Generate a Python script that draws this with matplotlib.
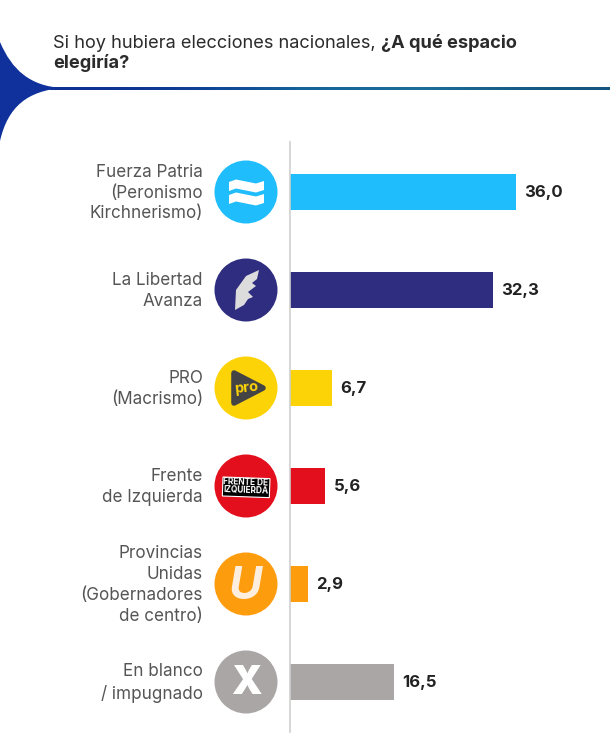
import numpy as np
import matplotlib
matplotlib.use("Agg")
import matplotlib.pyplot as plt
from matplotlib.patches import Circle, PathPatch, Polygon, Rectangle
from matplotlib.path import Path

plt.rcParams['font.family'] = ['Inter', 'DejaVu Sans']

labels = [
    "Fuerza Patria\n(Peronismo\nKirchnerismo)",
    "La Libertad\nAvanza",
    "PRO\n(Macrismo)",
    "Frente\nde Izquierda",
    "Provincias\nUnidas\n(Gobernadores\nde centro)",
    "En blanco\n/ impugnado",
]
values = [36.0, 32.3, 6.7, 5.6, 2.9, 16.5]
colors = ["#1fbdfb", "#2f2d80", "#fcd307", "#e30f1c", "#fd9c0d", "#aaa6a6"]

W, H = 610, 749
fig = plt.figure(figsize=(W / 100, H / 100), dpi=100, facecolor="white")

# overlay in pixel coords for header and logos
bg = fig.add_axes([0, 0, 1, 1])
bg.set_xlim(0, W)
bg.set_ylim(H, 0)
bg.axis("off")

# bar axes: 0 sits at x=290, 6.28 px per point, rows 98 px apart
ax = fig.add_axes([290 / W, 1 - 732 / H, 320 / W, 590 / H])
ax.patch.set_alpha(0)
ax.set_xlim(0, 320 / 6.28)
ax.set_ylim((732 - 192) / 98, (142 - 192) / 98)
y = np.arange(len(values))
ax.barh(y, values, height=36 / 98, color=colors)
for i, v in enumerate(values):
    ax.annotate(f"{v:.1f}".replace(".", ","), (v, i), xytext=(6, 0), textcoords="offset points",
                va="center", fontsize=12, fontweight="bold", color="#222222")
for s in ["top", "right", "bottom"]:
    ax.spines[s].set_visible(False)
ax.spines["left"].set_color("#cfcfcf")
ax.spines["left"].set_linewidth(1.2)
ax.set_xticks([])
ax.set_yticks([])

# header swoosh
swoosh = Path(
    [(0, 42), (12, 70), (30, 86), (62, 88), (28, 91), (8, 106), (0, 141), (0, 42)],
    [Path.MOVETO, Path.CURVE4, Path.CURVE4, Path.CURVE4, Path.CURVE4, Path.CURVE4, Path.CURVE4, Path.CLOSEPOLY],
)
bg.add_patch(PathPatch(swoosh, facecolor="#10309c", edgecolor="none"))
grad = np.array([[0.0, 0.2, 0.6, 1.0]])
cmap = matplotlib.colors.LinearSegmentedColormap.from_list("rule", ["#0d2f93", "#14649a", "#1b6f98", "#14557f"])
bg.imshow(grad, extent=(50, W, 90, 87), aspect="auto", cmap=cmap, interpolation="bicubic")
bg.set_xlim(0, W)
bg.set_ylim(H, 0)

title = bg.text(53, 44, "Si hoy hubiera elecciones nacionales, ", fontsize=13.1, color="#2b2b2b", va="center", ha="left")
bg.annotate("¿A qué espacio", xy=(1, 0), xycoords=title, va="bottom", ha="left",
            fontsize=13.1, fontweight="bold", color="#2b2b2b")
bg.text(53, 63, "elegiría?", fontsize=13.1, fontweight="bold", color="#2b2b2b", va="center", ha="left")

# row labels and logo discs
cx = 246
for i, lab in enumerate(labels):
    cy = 192 + 98 * i
    bg.text(203, cy + 1, lab, ha="right", va="center", fontsize=12.3, color="#555555", linespacing=1.3)
    bg.add_patch(Circle((cx, cy), 31.5, facecolor=colors[i], edgecolor="none"))

# Fuerza Patria flag
for cy in (185, 198):
    xs = np.array([229, 236, 246, 256, 264])
    top = np.array([-3, -5.5, -3.5, -1.5, -4]) + cy
    bottom = top + 9
    bg.add_patch(Polygon(np.r_[np.c_[xs, top], np.c_[xs[::-1], bottom[::-1]]], facecolor="white", edgecolor="none"))

# Libertad Avanza feather
bg.add_patch(Polygon([(259, 270), (246, 276), (236, 290), (235, 310), (244, 305), (248, 299), (253, 297),
                      (248, 292), (256, 286), (252, 283), (257, 279)], facecolor="#dcdcdc", edgecolor="none"))

# PRO play mark
bg.add_patch(Polygon([(234, 373), (263, 388), (234, 403)], facecolor="#444444", edgecolor="#444444",
                     linewidth=4, joinstyle="round"))
bg.text(246, 388, "pro", ha="center", va="center", fontsize=10.5, fontweight="bold", color="#fcd307", rotation=6)

# FIT logo
bg.add_patch(Rectangle((223, 477), 47, 19, facecolor="black", edgecolor="white", linewidth=0.8, angle=2))
bg.text(246, 482, "FRENTE DE", ha="center", va="center", fontsize=6, fontweight="bold", color="white", rotation=-2)
bg.text(246, 490, "IZQUIERDA", ha="center", va="center", fontsize=6, fontweight="bold", color="white", rotation=-2)

# Provincias Unidas U and the blank vote X
bg.text(245, 587, "U", ha="center", va="center", fontsize=33, fontweight="bold", fontstyle="italic", color="#fdeedd")
bg.text(246, 683, "X", ha="center", va="center", fontsize=28, fontweight="black", color="white")

fig.savefig("out.png", dpi=100, facecolor="white")
